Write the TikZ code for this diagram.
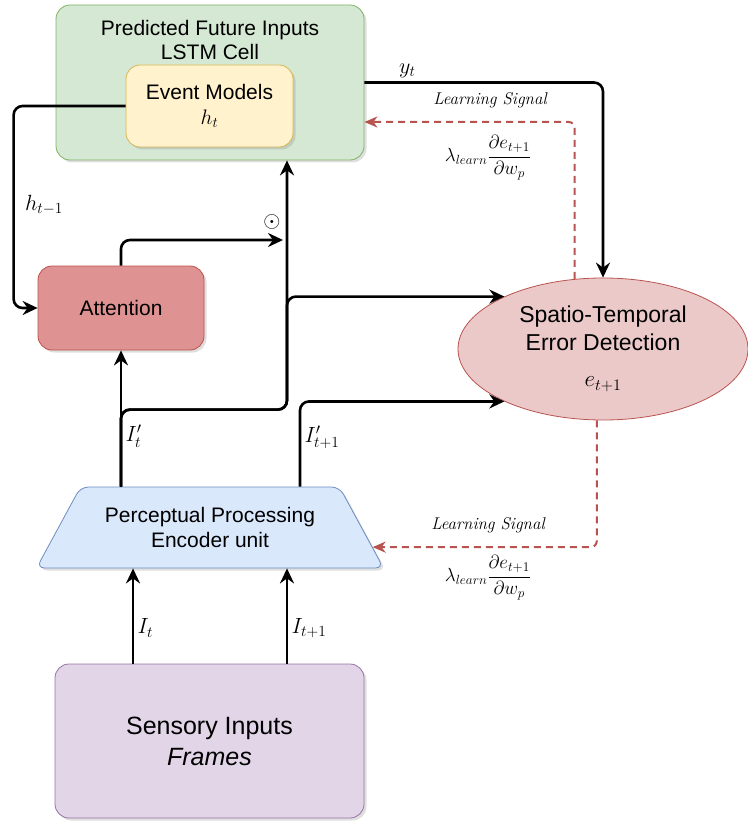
\RequirePackage{fix-cm}
\documentclass[tikz,border=0pt]{standalone}
\usepackage{fontspec}
\setmainfont{Liberation Sans}
\usepackage{xcolor}
\usetikzlibrary{arrows.meta,calc,positioning,shapes.geometric,shadows}

\definecolor{lstmfill}{HTML}{D5E8D4}
\definecolor{lstmline}{HTML}{82B366}
\definecolor{evfill}{HTML}{FFF2CC}
\definecolor{evline}{HTML}{D6B656}
\definecolor{attfill}{HTML}{DF9292}
\definecolor{redline}{HTML}{B85450}
\definecolor{errfill}{HTML}{ECC9C9}
\definecolor{encfill}{HTML}{DAE8FC}
\definecolor{encline}{HTML}{6C8EBF}
\definecolor{sensfill}{HTML}{E1D5E7}
\definecolor{sensline}{HTML}{9673A6}

\tikzset{
  box/.style={rounded corners=14pt, line width=0.8pt, align=center,
    drop shadow={shadow xshift=2.5pt,shadow yshift=-2.5pt,opacity=0.25},
    font=\fontsize{21pt}{25pt}\selectfont},
  flow/.style={line width=2.6pt, rounded corners=9pt,
    -{Stealth[length=15pt,width=14pt,inset=5pt]}},
  learn/.style={line width=2pt, redline, dash pattern=on 7pt off 5pt,
    rounded corners=6pt, -{Stealth[length=13pt,width=11pt,inset=4pt]}},
  sig/.style={font=\fontsize{17pt}{20pt}\fontfamily{lmr}\itshape\selectfont},
  grad/.style={font=\fontsize{19pt}{22pt}\selectfont},
  lab/.style={font=\fontsize{22pt}{25pt}\selectfont},
}

\begin{document}
\begin{tikzpicture}[x=1pt,y=-1pt]
    \useasboundingbox (0,0) rectangle (747,821);
    % blocks
    \node[box, fill=lstmfill, draw=lstmline, minimum width=308pt, minimum height=155pt] (lstm) at (210,82.5) {};
    \node[font=\fontsize{21pt}{24pt}\selectfont, align=center] (lstmtxt) at (210,40) {Predicted Future Inputs\\LSTM Cell};
    \node[box, fill=evfill, draw=evline, minimum width=167pt, minimum height=82pt] (evm) at (209.5,106) {Event Models\\$h_t$};
    \node[box, fill=attfill, draw=redline, minimum width=166pt, minimum height=84pt] (att) at (121,308) {Attention};
    \node[ellipse, fill=errfill, draw=redline, line width=0.8pt, inner sep=0pt, align=center,
          minimum width=290pt, minimum height=142pt, font=\fontsize{23pt}{28pt}\selectfont] (ste) at (603,349)
          {Spatio-Temporal\\Error Detection\\[8pt]$e_{t+1}$};
    \node[box, trapezium, trapezium stretches=true, trapezium left angle=52, trapezium right angle=52,
          rounded corners=8pt, fill=encfill, draw=encline, minimum width=348pt, minimum height=81pt] (enc) at (210,527.5)
          {Perceptual Processing\\Encoder unit};
    \node[box, fill=sensfill, draw=sensline, minimum width=309pt, minimum height=154pt,
          font=\fontsize{25pt}{31pt}\selectfont] (sens) at (209.5,741) {Sensory Inputs\\\textit{Frames}};

    % columns of the vertical wires
    \coordinate (colA) at (133,0);
    \coordinate (colB) at (287,0);
    \coordinate (colD) at (300,0);
    \coordinate (gatein) at (283,240);

    % inputs into the encoder
    \draw[flow] (sens.north -| colA) -- node[lab, right, pos=0.375] {$I_t$} (enc.south -| colA);
    \draw[flow] (sens.north -| colB) -- node[lab, right, pos=0.375] {$I_{t+1}$} (enc.south -| colB);

    % encoded frames
    \draw[flow] (enc.north -| att) -- node[lab, right, pos=0.37] {$I'_t$} (att);
    \draw[flow] (enc.north -| att) -- ++(0,-77) -| (lstm.south -| colB);
    \draw[flow] (enc.north -| att) -- ++(0,-77) -- ++(166,0) |- (ste.152);
    \draw[flow] (enc.north -| colD) |- node[lab, right, pos=0.29] {$I'_{t+1}$} (ste.208);

    % attention gate and recurrent state
    \draw[flow] (att.north) |- (gatein);
    \node[lab] (gate) at (272,222) {$\odot$};
    \draw[flow] (evm.west) -- ++(-112,0) |- (att.west);
    \node[lab] (hlab) at (44,205) {$h_{t-1}$};
    \draw[flow] (lstm.east) -| node[lab, above, pos=0.09] {$y_t$} (ste.north);

    % learning signals
    \draw[learn] (ste.112) |- (lstm.east |- 0,122);
    \node[sig] (sigtop) at (490,100) {Learning Signal};
    \node[grad] (gradtop) at (488,158) {$\lambda_{learn}\displaystyle\frac{\partial e_{t+1}}{\partial w_p}$};
    \draw[learn] (ste.265) |- ($(enc.bottom right corner)!0.26!(enc.top right corner)$);
    \node[sig] (sigbot) at (488,525) {Learning Signal};
    \node[grad] (gradbot) at (488,578) {$\lambda_{learn}\displaystyle\frac{\partial e_{t+1}}{\partial w_p}$};
\end{tikzpicture}
\end{document}
